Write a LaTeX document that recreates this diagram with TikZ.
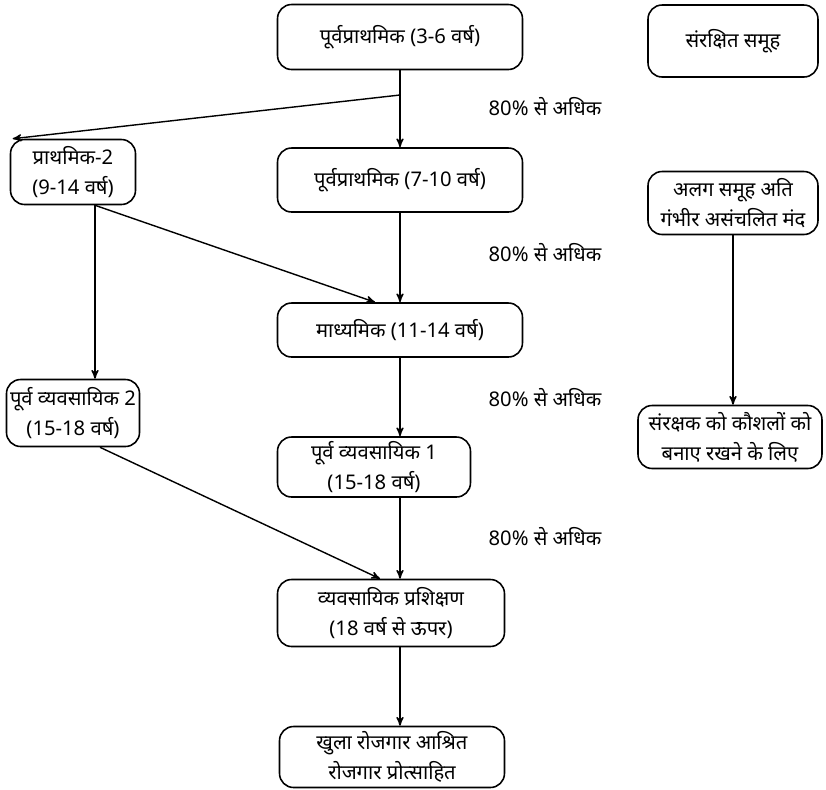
\documentclass[tikz,border=0pt]{standalone}
\usepackage{fontspec}
\newfontfamily\hindi[Script=Devanagari]{Noto Sans}
\usetikzlibrary{arrows}
\usetikzlibrary{positioning}
\tikzset{stage/.style = {draw, rounded corners = 8pt, line width = 0.9pt, align = center, inner sep = 2pt, font = \hindi\fontsize{11.5}{17}\selectfont},
  pct/.style = {font = \hindi\fontsize{11.5}{14}\selectfont},
  flow/.style = {-stealth', line width = 0.8pt}}

\begin{document}
\begin{tikzpicture}[x = 0.02cm, y = -0.02cm]
      \useasboundingbox (0, 0) rectangle (826, 789);

      % main column
      \node [stage, minimum width = 4.9cm, minimum height = 1.3cm] (pre1) at (400, 37) {पूर्वप्राथमिक (3-6 वर्ष)};
      \node [stage, minimum width = 4.9cm, minimum height = 1.28cm] (pre2) at (400, 180) {पूर्वप्राथमिक (7-10 वर्ष)};
      \node [stage, minimum width = 4.9cm, minimum height = 1.08cm] (sec) at (400, 330) {माध्यमिक (11-14 वर्ष)};
      \node [stage, minimum width = 3.86cm, minimum height = 1.2cm] (voc1) at (374, 467) {पूर्व व्यवसायिक 1\\(15-18 वर्ष)};
      \node [stage, minimum width = 4.54cm, minimum height = 1.34cm] (train) at (391, 613) {व्यवसायिक प्रशिक्षण\\(18 वर्ष से ऊपर)};
      \node [stage, minimum width = 4.5cm, minimum height = 1.22cm] (job) at (392, 757) {खुला रोजगार आश्रित\\रोजगार प्रोत्साहित};

      % left column
      \node [stage, minimum width = 2.5cm, minimum height = 1.3cm] (prim2) at (73, 172) {प्राथमिक-2\\(9-14 वर्ष)};
      \node [stage, minimum width = 2.54cm, minimum height = 1.34cm] (voc2) at (73, 413) {पूर्व व्यवसायिक 2\\(15-18 वर्ष)};

      % right column
      \node [stage, minimum width = 3.4cm, minimum height = 1.44cm] (guard) at (733, 41) {संरक्षित समूह};
      \node [stage, minimum width = 3.4cm, minimum height = 1.26cm] (apart) at (733, 203) {अलग समूह अति\\गंभीर असंचलित मंद};
      \node [stage, minimum width = 3.68cm, minimum height = 1.26cm] (keep) at (730, 437) {संरक्षक को कौशलों को\\बनाए रखने के लिए};

      \node [pct] (p1) at (545, 107) {80\% से अधिक};
      \node [pct] (p2) at (545, 253) {80\% से अधिक};
      \node [pct] (p3) at (545, 398) {80\% से अधिक};
      \node [pct] (p4) at (545, 537) {80\% से अधिक};

      \coordinate (split) at (400, 95);
      \coordinate (fork) at ([xshift = 0.44cm]prim2.south);

      \draw [flow] (pre1) -- (pre2);
      \draw [flow] (split) -- ([xshift = 0.06cm]prim2.north west);
      \draw [flow] (pre2) -- (sec);
      \draw [flow] (fork) -- ([xshift = -0.5cm]sec.north);
      \draw [flow] (fork) -- (fork |- voc2.north);
      \draw [flow] (sec) -- (sec |- voc1.north);
      \draw [flow] (sec |- voc1.south) -- (sec |- train.north);
      \draw [flow] ([xshift = 0.54cm]voc2.south) -- ([xshift = -0.22cm]train.north);
      \draw [flow] (sec |- train.south) -- (sec |- job.north);
      \draw [flow] (apart) -- (apart |- keep.north);
    \end{tikzpicture}
\end{document}
